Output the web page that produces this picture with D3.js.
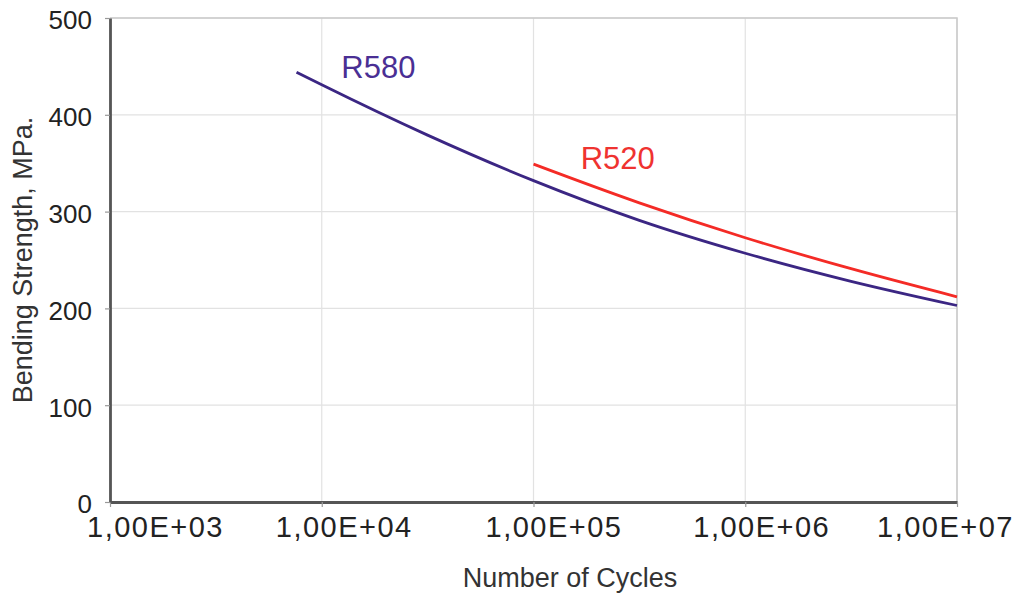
<!DOCTYPE html>
<html>
<head>
<meta charset="utf-8">
<script src="https://cdn.jsdelivr.net/npm/d3@7"></script>
<style>
	body { margin: 0; background: #fff; }
	svg text { font-family: "Liberation Sans", Arial, sans-serif; }
</style>
</head>
<body>
<svg id="chart" width="1019" height="597"></svg>
<script>
// Chart data
var xTicks = [1e3, 1e4, 1e5, 1e6, 1e7];
var xTickLabels = ["1,00E+03", "1,00E+04", "1,00E+05", "1,00E+06", "1,00E+07"];
var yTicks = [0, 100, 200, 300, 400, 500];

var r580Cycles = [7600, 1e4, 3.16e4, 1e5, 3.16e5, 1e6, 3.16e6, 1e7];
var r580Stress = [444, 431, 379, 332, 291, 257, 228, 203];
var r520Cycles = [1e5, 3.16e5, 1e6, 3.16e6, 1e7];
var r520Stress = [349, 309, 273, 241, 212];

var chart = [];
chart.margin = {top: 18, right: 62, bottom: 95, left: 110};
chart.width = 1019;
chart.height = 597;
// label shifts of the x tick texts, as in the picture
chart.xLabelShift = [45, 22, 20, 16, -12];

chart.draw = () => {
	let svg = d3.select("#chart");
	let m = chart.margin,
		iwidth = chart.width - m.left - m.right,
		iheight = chart.height - m.top - m.bottom;

	let x = d3.scaleLog().domain([1e3, 1e7]).range([0, iwidth]),
		y = d3.scaleLinear().domain([0, 500]).range([iheight, 0]);

	let g = svg.append("g")
		.attr("transform", "translate(" + m.left + "," + m.top + ")");

	// Grid lines
	g.selectAll(".vgrid")
		.data(xTicks)
		.enter()
		.append("line")
		.attr("x1", d => x(d)).attr("x2", d => x(d))
		.attr("y1", 0).attr("y2", iheight)
		.style("stroke", "#e2e2e2")
		.style("stroke-width", 1.2);

	g.selectAll(".hgrid")
		.data(yTicks)
		.enter()
		.append("line")
		.attr("x1", 0).attr("x2", iwidth)
		.attr("y1", d => y(d)).attr("y2", d => y(d))
		.style("stroke", "#e2e2e2")
		.style("stroke-width", 1.2);

	// Frame top and right
	g.append("path")
		.attr("d", "M0,0H" + iwidth + "V" + iheight)
		.style("fill", "none")
		.style("stroke", "#c9c9c9")
		.style("stroke-width", 1.5);

	// Axes
	let xAxis = g.append("g")
		.attr("transform", "translate(0," + iheight + ")")
		.call(d3.axisBottom(x).tickValues(xTicks)
			.tickFormat((d, i) => xTickLabels[i])
			.tickSize(5).tickSizeOuter(0));
	xAxis.select(".domain").style("stroke", "#555").style("stroke-width", 2.8);
	xAxis.selectAll(".tick line").style("stroke", "#999").style("stroke-width", 1.2);
	xAxis.selectAll("text")
		.attr("x", (d, i) => chart.xLabelShift[i])
		.attr("y", 35)
		.attr("dy", 0)
		.style("font-size", "29px")
		.style("letter-spacing", "1.5px")
		.style("fill", "#222");

	let yAxis = g.append("g")
		.call(d3.axisLeft(y).tickValues(yTicks)
			.tickSize(5).tickSizeOuter(0));
	yAxis.select(".domain").style("stroke", "#555").style("stroke-width", 2.8);
	yAxis.selectAll(".tick line").style("stroke", "#999").style("stroke-width", 1.2);
	yAxis.selectAll("text")
		.attr("x", -18)
		.attr("dy", "0.42em")
		.style("font-size", "26px")
		.style("fill", "#222");

	// Axis titles
	svg.append("text")
		.attr("x", 570)
		.attr("y", 587)
		.style("text-anchor", "middle")
		.style("font-size", "27px")
		.style("fill", "#333")
		.text("Number of Cycles");

	svg.append("text")
		.attr("transform", "translate(32," + (m.top + iheight / 2) + ") rotate(-90)")
		.style("text-anchor", "middle")
		.style("font-size", "27px")
		.style("fill", "#333")
		.text("Bending Strength, MPa.");

	// Curves
	let line = d3.line()
		.x(d => x(d[0]))
		.y(d => y(d[1]))
		.curve(d3.curveMonotoneX);

	let series = [
		{name: "R580", color: "#3b2683", text: "#4a2f94", pts: d3.zip(r580Cycles, r580Stress), lx: 1.85e4, ly: 438},
		{name: "R520", color: "#f42b26", text: "#ef3330", pts: d3.zip(r520Cycles, r520Stress), lx: 2.5e5, ly: 344}
	];

	g.selectAll(".curve")
		.data(series)
		.enter()
		.append("path")
		.attr("d", d => line(d.pts))
		.style("fill", "none")
		.style("stroke", d => d.color)
		.style("stroke-width", 2.8);

	g.selectAll(".label")
		.data(series)
		.enter()
		.append("text")
		.attr("x", d => x(d.lx))
		.attr("y", d => y(d.ly))
		.style("text-anchor", "middle")
		.style("font-size", "31px")
		.style("fill", d => d.text)
		.text(d => d.name);
}

chart.draw();
</script>
</body>
</html>
